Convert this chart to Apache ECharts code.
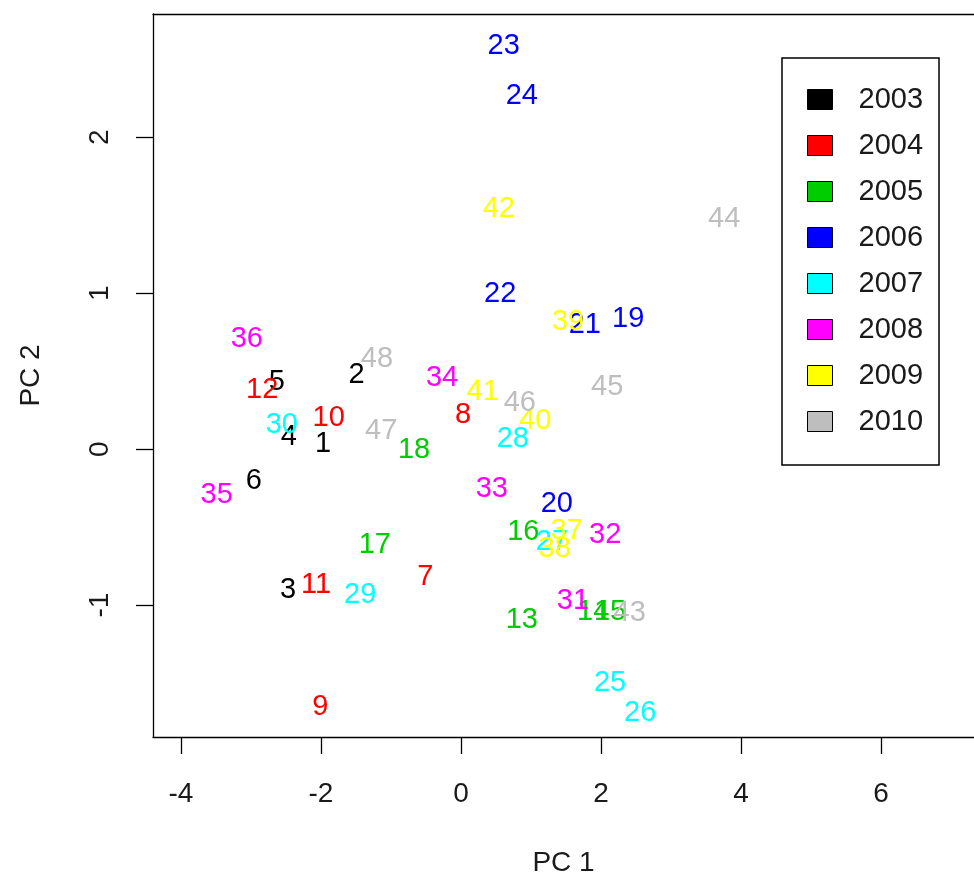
<!DOCTYPE html>
<html><head><meta charset="utf-8">
<script src="https://cdn.jsdelivr.net/npm/echarts@6/dist/echarts.min.js"></script>
<style>html,body{margin:0;padding:0;background:#fff}#c{width:974px;height:879px}</style>
</head><body><div id="c"></div><script>
const years = ['2003','2004','2005','2006','2007','2008','2009','2010'];
const yearColors = ['#000000','#FF0000','#00CD00','#0000FF','#00FFFF','#FF00FF','#FFFF00','#BEBEBE'];
const pointIds = [1,2,3,4,5,6,7,8,9,10,11,12,13,14,15,16,17,18,19,20,21,22,23,24,25,26,27,28,29,30,31,32,33,34,35,36,37,38,39,40,41,42,43,44,45,46,47,48];
const pointYear = ['2003','2003','2003','2003','2003','2003','2004','2004','2004','2004','2004','2004','2005','2005','2005','2005','2005','2005','2006','2006','2006','2006','2006','2006','2007','2007','2007','2007','2007','2007','2008','2008','2008','2008','2008','2008','2009','2009','2009','2009','2009','2009','2010','2010','2010','2010','2010','2010'];
const pc1 = [-1.97,-1.49,-2.47,-2.46,-2.63,-2.96, -0.51,0.03,-2.01,-1.89,-2.07,-2.84, 0.87,1.89,2.13,0.89,-1.23,-0.67, 2.39,1.37,1.77,0.56,0.61,0.87, 2.13,2.56,1.30,0.74,-1.44,-2.56, 1.60,2.06,0.44,-0.27,-3.49,-3.06, 1.51,1.34,1.53,1.06,0.31,0.54, 2.41,3.76,2.09,0.84,-1.14,-1.20];
const pc2 = [0.045,0.49,-0.89,0.09,0.44,-0.19, -0.81,0.23,-1.64,0.21,-0.86,0.39, -1.08,-1.03,-1.03,-0.52,-0.60,0.01, 0.85,-0.34,0.81,1.01,2.60,2.28, -1.49,-1.68,-0.58,0.08,-0.92,0.17, -0.96,-0.54,-0.24,0.47,-0.28,0.72, -0.51,-0.63,0.83,0.19,0.38,1.55, -1.04,1.49,0.41,0.31,0.13,0.59];
const xTicks = [-4,-2,0,2,4,6];
const yTicks = [-1,0,1,2];

const FONT = 'Liberation Sans';
const series = years.map((yr, k) => ({
  name: yr,
  type: 'scatter',
  symbolSize: 0.01,
  itemStyle: { color: yearColors[k], opacity: 1 },
  silent: true,
  emphasis: { disabled: true },
  label: {
    show: true, position: 'inside', offset: [0, 2],
    formatter: p => String(p.value[2]),
    fontSize: 29, fontFamily: FONT, color: yearColors[k],
    align: 'center', verticalAlign: 'middle'
  },
  data: pointIds.map((id, i) => pointYear[i] === yr ? [pc1[i], pc2[i], id] : null).filter(d => d)
}));

const axisLineStyle = { color: '#000', width: 1.3 };
const chart = echarts.init(document.getElementById('c'));
chart.setOption({
  animation: false,
  backgroundColor: '#fff',
  grid: { left: 153, top: 14, right: 0, bottom: 142, outerBoundsMode: 'none', containLabel: false },
  xAxis: [{
    type: 'value', min: -4.4, max: 7.33,
    splitLine: { show: false },
    axisLine: { show: true, onZero: false, lineStyle: axisLineStyle },
    axisTick: { show: true, length: 17, customValues: xTicks, lineStyle: axisLineStyle },
    axisLabel: { customValues: xTicks, fontSize: 28, margin: 43, color: '#1a1a1a', fontFamily: FONT },
    name: 'PC 1', nameLocation: 'middle', nameGap: 112,
    nameTextStyle: { fontSize: 28, color: '#1a1a1a', fontFamily: FONT }
  }, {
    type: 'value', position: 'top', min: -4.4, max: 7.33,
    splitLine: { show: false },
    axisLine: { show: true, onZero: false, lineStyle: axisLineStyle },
    axisTick: { show: false }, axisLabel: { show: false }
  }],
  yAxis: {
    type: 'value', min: -1.846, max: 2.79,
    splitLine: { show: false },
    axisLine: { show: true, onZero: false, lineStyle: axisLineStyle },
    axisTick: { show: true, length: 17, customValues: yTicks, lineStyle: axisLineStyle },
    axisLabel: { customValues: yTicks, rotate: 90, fontSize: 28, margin: 39, color: '#1a1a1a', fontFamily: FONT },
    name: 'PC 2', nameLocation: 'middle', nameGap: 108, nameRotate: 90,
    nameTextStyle: { fontSize: 28, color: '#1a1a1a', fontFamily: FONT }
  },
  legend: {
    orient: 'vertical', left: 782, top: 58,
    data: years,
    selectedMode: false,
    icon: 'rect', itemWidth: 25, itemHeight: 20, itemGap: 17,
    itemStyle: { borderColor: '#000', borderWidth: 1, opacity: 1 },
    padding: [27, 16, 29, 25],
    borderColor: '#000', borderWidth: 1.5,
    textStyle: { fontSize: 29, fontFamily: FONT, color: '#1a1a1a', lineHeight: 20, padding: [0, 0, 0, 21] }
  },
  series: series
});
</script></body></html>
